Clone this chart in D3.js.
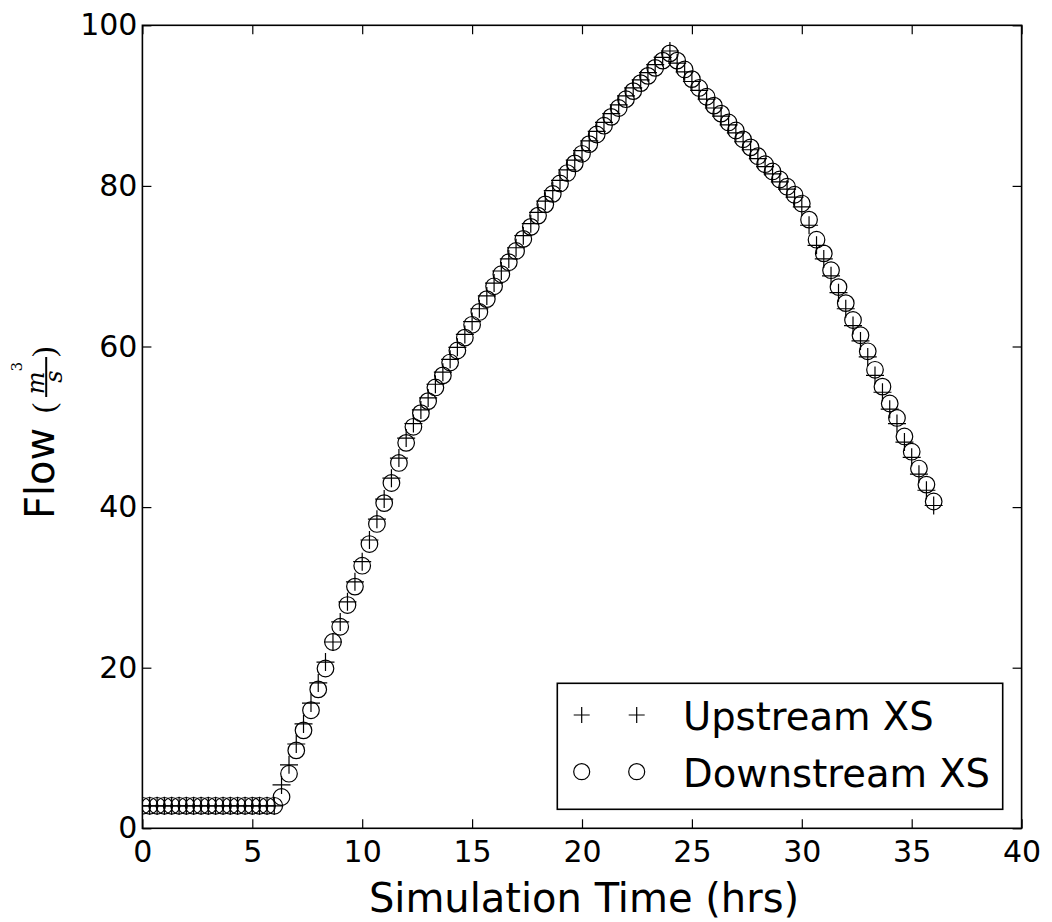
<!DOCTYPE html>
<html>
<head>
<meta charset="utf-8">
<script src="https://cdn.jsdelivr.net/npm/d3@7"></script>
<style>
  html, body { margin: 0; padding: 0; background: #fff; }
  svg { display: block; }
  text { font-family: "DejaVu Sans", sans-serif; fill: #000; }
</style>
</head>
<body>
<svg id="chart" width="1052" height="922"></svg>
<script>
// Simulation time stamps (hrs), 20-minute output interval
const timeHours = [0,0.33,0.67,1,1.33,1.67,2,2.33,2.67,3,3.33,3.67,4,4.33,4.67,5,5.33,5.67,6,6.33,6.67,7,7.33,7.67,8,8.33,8.67,9,9.33,9.67,10,10.33,10.67,11,11.33,11.67,12,12.33,12.67,13,13.33,13.67,14,14.33,14.67,15,15.33,15.67,16,16.33,16.67,17,17.33,17.67,18,18.33,18.67,19,19.33,19.67,20,20.33,20.67,21,21.33,21.67,22,22.33,22.67,23,23.33,23.67,24,24.33,24.67,25,25.33,25.67,26,26.33,26.67,27,27.33,27.67,28,28.33,28.67,29,29.33,29.67,30,30.33,30.67,31,31.33,31.67,32,32.33,32.67,33,33.33,33.67,34,34.33,34.67,35,35.33,35.67,36];

// Flow at the upstream cross section (m3/s)
const upstreamFlow = [
  2.8,2.8,2.8,2.8,2.8,2.8,2.8,2.8,2.8,2.8,2.8,2.8,2.8,2.8,2.8,2.8,2.8,2.8,2.8,
  5.4,7.9,10.5,13.0,15.6,18.1,20.7,23.2,25.7,28.2,30.7,33.2,35.9,38.5,41.0,43.6,46.1,
  48.6,50.4,52.1,53.6,55.3,56.8,58.4,59.9,61.5,63.1,64.7,66.3,67.9,69.4,70.9,72.3,
  73.8,75.3,76.7,78.1,79.4,80.7,82.0,83.2,84.4,85.6,86.8,87.9,89.0,90.1,91.2,92.2,93.2,94.1,95.1,96.0,96.8,
  95.3,94.2,93.0,91.9,90.8,89.7,88.7,87.6,86.6,85.5,84.5,83.4,82.4,81.5,80.5,79.6,78.6,77.4,
  75.1,72.6,70.9,68.8,66.7,64.7,62.6,60.7,58.7,56.4,54.3,52.2,50.4,48.1,46.2,44.1,42.1,40.2
];

// Flow at the downstream cross section (m3/s)
const downstreamFlow = [
  2.8,2.8,2.8,2.8,2.8,2.8,2.8,2.8,2.8,2.8,2.8,2.8,2.8,2.8,2.8,2.8,2.8,2.8,2.8,
  3.9,6.8,9.7,12.2,14.7,17.3,19.9,23.2,25.1,27.8,30.1,32.7,35.4,37.9,40.5,43.0,45.5,
  48.0,50.0,51.7,53.2,54.9,56.4,58.0,59.5,61.1,62.7,64.3,65.9,67.5,69.0,70.5,71.9,
  73.4,74.9,76.3,77.7,79.0,80.3,81.6,82.8,84.0,85.2,86.4,87.5,88.6,89.7,90.8,91.8,92.8,93.7,94.7,95.6,96.5,
  95.6,94.5,93.3,92.2,91.1,90.0,89.0,87.9,86.9,85.8,84.8,83.7,82.7,81.8,80.8,79.9,78.9,77.8,
  75.8,73.3,71.6,69.5,67.4,65.4,63.3,61.4,59.4,57.1,55.0,52.9,51.1,48.8,46.9,44.8,42.8,40.7
];

const xTicks = [0,5,10,15,20,25,30,35,40];
const yTicks = [0,20,40,60,80,100];
const seriesNames = ["Upstream XS", "Downstream XS"];

const svg = d3.select("#chart");
const plot = { left: 142.4, right: 1021.6, top: 25.3, bottom: 828.3 };

const x = d3.scaleLinear().domain([0, 40]).range([plot.left, plot.right]);
const y = d3.scaleLinear().domain([0, 100]).range([plot.bottom, plot.top]);

svg.append("rect").attr("width", 1052).attr("height", 922).attr("fill", "#fff");

svg.append("defs").append("clipPath").attr("id", "plot-clip")
  .append("rect")
  .attr("x", plot.left).attr("y", plot.top)
  .attr("width", plot.right - plot.left).attr("height", plot.bottom - plot.top);

// Axes: inward ticks on all four sides
function styleAxis(g) {
  g.select(".domain").remove();
  g.selectAll(".tick line").attr("stroke", "#000").attr("stroke-width", 1.2);
  g.selectAll(".tick text").style("font-family", "DejaVu Sans").style("font-size", "30px").attr("fill", "#000");
}

svg.append("g")
  .attr("transform", `translate(0,${plot.bottom})`)
  .call(d3.axisBottom(x).tickValues(xTicks).tickSize(-9).tickPadding(12).tickFormat(d3.format("d")))
  .call(styleAxis)
  .call(g => g.selectAll(".tick text").attr("dy", "0.71em"));

svg.append("g")
  .attr("transform", `translate(0,${plot.top})`)
  .call(d3.axisTop(x).tickValues(xTicks).tickSize(-9).tickFormat(""))
  .call(styleAxis);

svg.append("g")
  .attr("transform", `translate(${plot.left},0)`)
  .call(d3.axisLeft(y).tickValues(yTicks).tickSize(-9).tickPadding(5).tickFormat(d3.format("d")))
  .call(styleAxis);

svg.append("g")
  .attr("transform", `translate(${plot.right},0)`)
  .call(d3.axisRight(y).tickValues(yTicks).tickSize(-9).tickFormat(""))
  .call(styleAxis);

// Frame
svg.append("rect")
  .attr("x", plot.left).attr("y", plot.top)
  .attr("width", plot.right - plot.left).attr("height", plot.bottom - plot.top)
  .attr("fill", "none").attr("stroke", "#000").attr("stroke-width", 1.6);

// Markers
const plusPath = r => `M${-r},0H${r}M0,${-r}V${r}`;
const marks = svg.append("g").attr("clip-path", "url(#plot-clip)");

marks.append("g").selectAll("path")
  .data(timeHours.map((t, i) => [t, upstreamFlow[i]]))
  .join("path")
  .attr("transform", d => `translate(${x(d[0])},${y(d[1])})`)
  .attr("d", plusPath(9))
  .attr("fill", "none").attr("stroke", "#000").attr("stroke-width", 1.2);

marks.append("g").selectAll("circle")
  .data(timeHours.map((t, i) => [t, downstreamFlow[i]]))
  .join("circle")
  .attr("cx", d => x(d[0])).attr("cy", d => y(d[1]))
  .attr("r", 8.3)
  .attr("fill", "none").attr("stroke", "#000").attr("stroke-width", 1.2);

// Legend
const legend = svg.append("g");
legend.append("rect")
  .attr("x", 557.3).attr("y", 683.3).attr("width", 445.4).attr("height", 126)
  .attr("fill", "#fff").attr("stroke", "#000").attr("stroke-width", 1.6);

const rowsY = [715, 771.7];
[581.7, 636.7].forEach(mx => {
  legend.append("path")
    .attr("transform", `translate(${mx},${rowsY[0]})`)
    .attr("d", plusPath(8)).attr("fill", "none").attr("stroke", "#000").attr("stroke-width", 1.2);
  legend.append("circle")
    .attr("cx", mx).attr("cy", rowsY[1]).attr("r", 8)
    .attr("fill", "none").attr("stroke", "#000").attr("stroke-width", 1.2);
});
seriesNames.forEach((name, i) => {
  legend.append("text")
    .attr("x", 683).attr("y", rowsY[i] + 15)
    .style("font-size", "38.5px")
    .text(name);
});

// Axis labels
svg.append("text")
  .attr("x", 584).attr("y", 911.7)
  .attr("text-anchor", "middle")
  .style("font-size", "40px")
  .text("Simulation Time (hrs)");

const yl = svg.append("g").attr("transform", "translate(53.5,519) rotate(-90)");
yl.append("text").attr("x", 0).attr("y", 0).style("font-size", "40px").text("Flow");
const paren = "'Liberation Serif', 'DejaVu Serif', serif";
const mathFont = "'DejaVu Serif', serif";
yl.append("text").attr("x", 106).attr("y", 0.5)
  .style("font-family", paren).style("font-size", "31px").text("(");
const num = yl.append("text").attr("x", 141).attr("y", -10)
  .attr("text-anchor", "middle")
  .style("font-family", mathFont).style("font-size", "24px");
num.append("tspan").style("font-style", "italic").text("m");
num.append("tspan").attr("dy", -22).style("font-size", "15px").text("3");
yl.append("line")
  .attr("x1", 122).attr("x2", 162).attr("y1", -7.3).attr("y2", -7.3)
  .attr("stroke", "#000").attr("stroke-width", 2);
yl.append("text").attr("x", 142.5).attr("y", 8.5)
  .attr("text-anchor", "middle")
  .style("font-family", mathFont).style("font-size", "24px").style("font-style", "italic")
  .text("s");
yl.append("text").attr("x", 162).attr("y", 0.5)
  .style("font-family", paren).style("font-size", "31px").text(")");
</script>
</body>
</html>
